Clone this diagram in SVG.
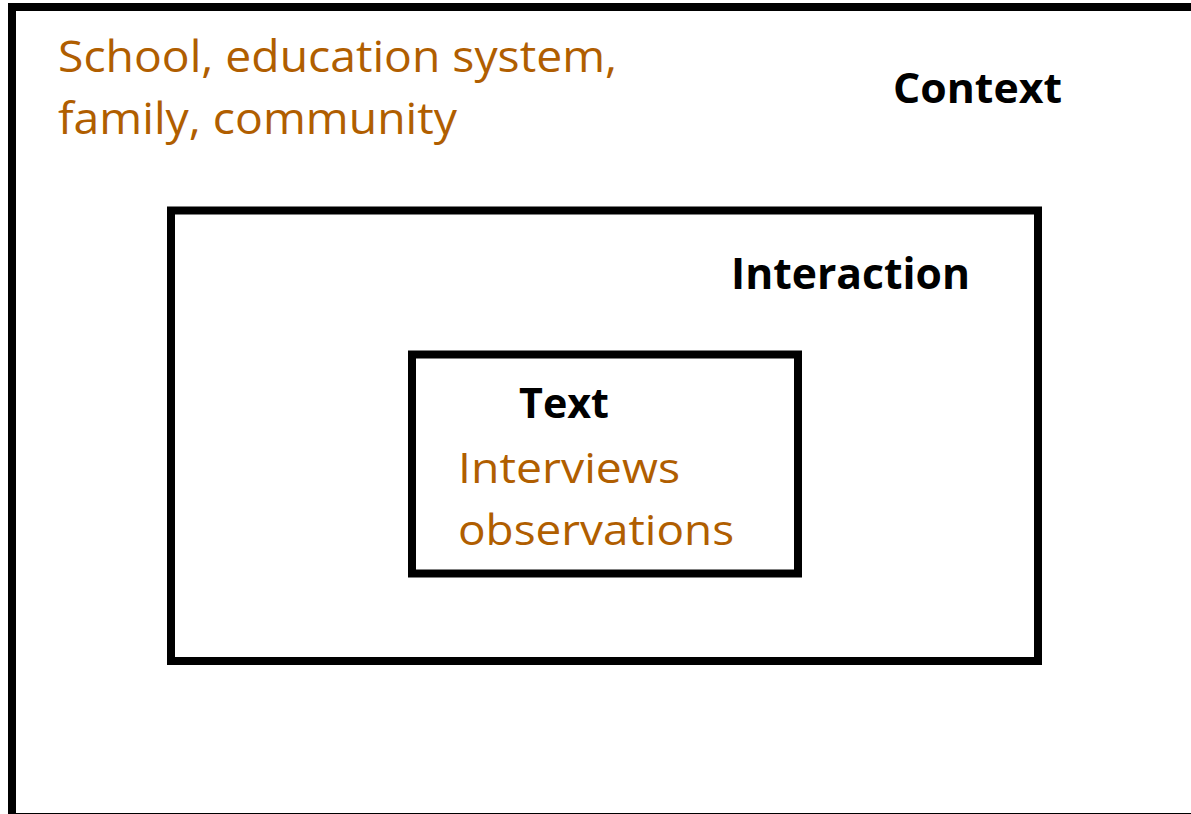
<svg xmlns="http://www.w3.org/2000/svg" width="1191" height="814" viewBox="0 0 1191 814">
  <style>
    .frame { fill: none; stroke: #000; stroke-width: 8; }
    .label { font-family: "Open Sans", "Liberation Sans", sans-serif; font-weight: 700; fill: #000; }
    .note { font-family: "Open Sans", "Liberation Sans", sans-serif; fill: #B05E00; }
  </style>
  <rect width="1191" height="814" fill="#fff"/>

  <!-- outermost layer: context -->
  <g id="context">
    <rect class="frame" x="12" y="7" width="1200" height="810"/>
    <text class="note" x="58" y="72" font-size="43" textLength="559" lengthAdjust="spacingAndGlyphs">School, education system,</text>
    <text class="note" x="58" y="134" font-size="43" textLength="399" lengthAdjust="spacingAndGlyphs">family, community</text>
    <text class="label" x="893" y="103" font-size="42" textLength="169" lengthAdjust="spacingAndGlyphs">Context</text>
  </g>

  <!-- middle layer: interaction -->
  <g id="interaction">
    <rect class="frame" x="171" y="210.5" width="867" height="450.5"/>
    <text class="label" x="731" y="289" font-size="43" textLength="239" lengthAdjust="spacingAndGlyphs">Interaction</text>
  </g>

  <!-- innermost layer: text -->
  <g id="text">
    <rect class="frame" x="412" y="354.5" width="386" height="219"/>
    <text class="label" x="519" y="418" font-size="42" textLength="90" lengthAdjust="spacingAndGlyphs">Text</text>
    <text class="note" x="458" y="483" font-size="42" textLength="222" lengthAdjust="spacingAndGlyphs">Interviews</text>
    <text class="note" x="458" y="545" font-size="42" textLength="276" lengthAdjust="spacingAndGlyphs">observations</text>
  </g>

  <g id="connectors"/>
</svg>
